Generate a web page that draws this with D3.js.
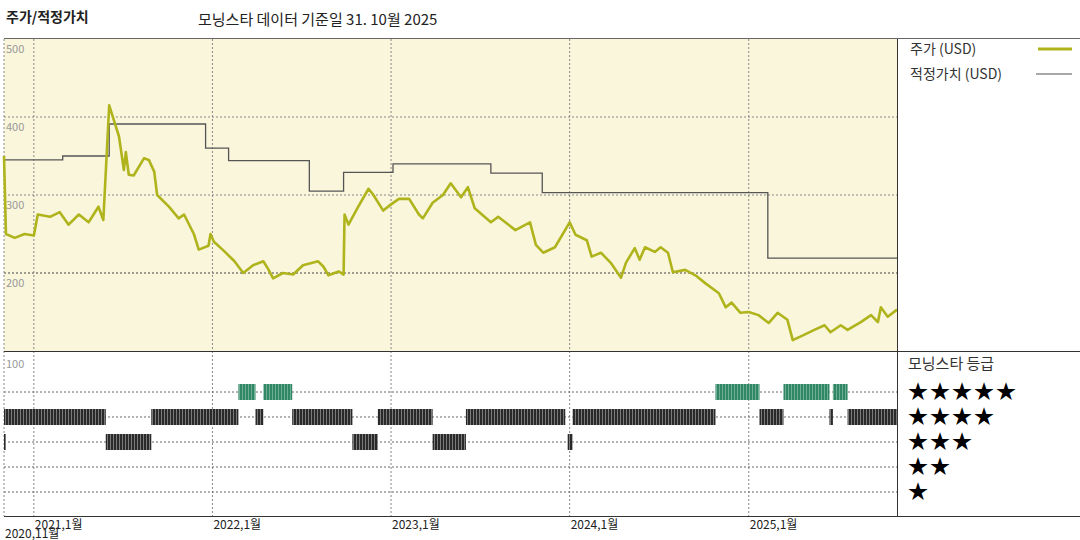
<!DOCTYPE html>
<html><head><meta charset="utf-8">
<script src="https://cdn.jsdelivr.net/npm/d3@7"></script>
<style>body{margin:0;background:#fff}text{font-family:"Noto Sans CJK KR","DejaVu Sans",sans-serif}</style>
</head><body><svg id="c" width="1080" height="540"></svg>
<script>
const priceDates=["2020-11-01","2020-11-05","2020-11-23","2020-12-13","2021-01-01","2021-01-09","2021-02-03","2021-02-23","2021-03-13","2021-04-03","2021-04-23","2021-05-13","2021-05-23","2021-06-04","2021-06-14","2021-06-24","2021-07-04","2021-07-08","2021-07-14","2021-07-24","2021-08-14","2021-08-24","2021-09-04","2021-09-10","2021-10-04","2021-10-24","2021-11-04","2021-11-24","2021-12-04","2021-12-24","2021-12-28","2022-01-04","2022-01-25","2022-02-15","2022-03-05","2022-03-25","2022-04-15","2022-04-25","2022-05-05","2022-05-25","2022-06-15","2022-07-05","2022-08-05","2022-08-16","2022-08-26","2022-09-16","2022-09-26","2022-09-28","2022-10-06","2022-10-26","2022-11-16","2022-11-26","2022-12-16","2023-01-01","2023-01-17","2023-02-07","2023-02-27","2023-03-07","2023-03-27","2023-04-17","2023-05-03","2023-05-24","2023-06-07","2023-06-21","2023-07-24","2023-08-08","2023-09-12","2023-10-12","2023-10-24","2023-11-08","2023-12-02","2024-01-01","2024-01-13","2024-02-05","2024-02-15","2024-03-05","2024-03-25","2024-04-15","2024-04-25","2024-05-13","2024-05-23","2024-06-03","2024-06-23","2024-07-05","2024-07-20","2024-07-30","2024-08-24","2024-09-14","2024-10-04","2024-11-01","2024-11-15","2024-11-27","2024-12-15","2025-01-01","2025-01-21","2025-02-11","2025-03-01","2025-03-21","2025-04-01","2025-04-25","2025-05-15","2025-06-05","2025-06-17","2025-07-08","2025-07-22","2025-08-18","2025-09-08","2025-09-22","2025-09-28","2025-10-12","2025-10-31"];
const priceValues=[350,250,245,250,248,275,272,278,262,275,265,285,268,415,395,375,332,355,326,325,347,345,330,300,285,270,275,250,230,235,250,240,228,215,200,210,215,205,193,200,198,210,215,208,197,202,198,275,262,285,308,300,280,288,295,295,275,270,290,300,315,297,310,283,265,272,255,265,236,226,233,265,249,242,221,226,213,194,213,232,217,233,227,233,226,201,204,197,187,174,156,162,149,150,146,136,149,140,114,121,127,133,124,133,127,137,146,137,156,144,153];
const fairDates=["2020-11-01","2021-03-01","2021-06-04","2021-12-18","2022-02-03","2022-07-18","2022-09-26","2023-01-05","2023-07-24","2023-11-06","2025-02-09","2025-10-31"];
const fairValues=[345,350,391,360,344,305,329,340,328,303,219,219];
const ratingStart=["2020-11-01","2020-11-01","2021-05-28","2021-08-29","2022-02-23","2022-03-30","2022-04-15","2022-06-13","2022-10-14","2022-12-05","2023-03-27","2023-06-03","2023-12-28","2024-01-07","2024-10-25","2025-01-23","2025-03-13","2025-06-15","2025-06-22","2025-07-22"];
const ratingEnd=["2021-05-28","2020-11-04","2021-08-29","2022-02-23","2022-03-30","2022-04-15","2022-06-13","2022-10-14","2022-12-05","2023-03-27","2023-06-03","2023-12-23","2024-01-07","2024-10-25","2025-01-23","2025-03-13","2025-06-15","2025-06-22","2025-07-22","2025-10-31"];
const ratingStars=[4,3,3,4,5,4,5,4,3,4,3,4,3,4,5,4,5,4,5,4];
const yTicks=[500,400,300,200];
const xTickDates=["2020-11-01","2021-01-01","2022-01-01","2023-01-01","2024-01-01","2025-01-01"];
const xTickLabels=["2020,11월","2021,1월","2022,1월","2023,1월","2024,1월","2025,1월"];
const starRows=[5,4,3,2,1];

const P=d3.timeParse("%Y-%m-%d");
const svg=d3.select("#c");
const L=4,R=897,T=39,M=351,B=516;
const x=d3.scaleTime().domain([P("2020-11-01"),P("2025-10-31")]).range([L,R]);
const y=d3.scaleLinear().domain([100,500]).range([M,T]);
const yr=d3.scalePoint().domain(starRows).range([392,492]);

const defs=svg.append("defs");
const pat=defs.append("pattern").attr("id","pk").attr("width",3).attr("height",10).attr("patternUnits","userSpaceOnUse");
pat.append("rect").attr("width",3).attr("height",10).attr("fill","#7a7a7a");
pat.append("rect").attr("width",2).attr("height",10).attr("fill","#2a2a2a");
const pg=defs.append("pattern").attr("id","pg").attr("width",3).attr("height",10).attr("patternUnits","userSpaceOnUse");
pg.append("rect").attr("width",3).attr("height",10).attr("fill","#6fae95");
pg.append("rect").attr("width",2).attr("height",10).attr("fill","#2f8766");

svg.append("rect").attr("x",L).attr("y",T).attr("width",R-L).attr("height",M-T).attr("fill","#faf6dc");

svg.append("text").attr("x",6).attr("y",22).attr("font-size",14).attr("font-weight","bold").attr("fill","#222").text("주가/적정가치");
svg.append("text").attr("x",198).attr("y",25).attr("font-size",15).attr("fill","#222").text("모닝스타 데이터 기준일 31. 10월 2025");

const g=svg.append("g");
g.selectAll(".hg").data(yTicks.slice(1)).join("line").attr("x1",L).attr("x2",R).attr("y1",d=>y(d)).attr("y2",d=>y(d))
 .attr("stroke",d=>d===200?"#444":"#888").attr("stroke-dasharray","2,2").attr("stroke-width",1);
g.selectAll(".vg").data(xTickDates.slice(1)).join("line").attr("x1",d=>x(P(d))).attr("x2",d=>x(P(d))).attr("y1",T).attr("y2",B)
 .attr("stroke","#888").attr("stroke-dasharray","2,2");
g.selectAll(".rg").data(starRows).join("line").attr("x1",L).attr("x2",R).attr("y1",d=>yr(d)).attr("y2",d=>yr(d))
 .attr("stroke","#666").attr("stroke-dasharray","2,2");
g.append("line").attr("x1",L).attr("x2",L).attr("y1",T).attr("y2",B).attr("stroke","#888").attr("stroke-dasharray","2,2");

g.selectAll(".yl").data(yTicks).join("text").attr("x",6).attr("y",d=>y(d)+14).attr("font-size",11).attr("fill","#999").text(d=>d);
g.append("text").attr("x",6).attr("y",368).attr("font-size",11).attr("fill","#999").text("100");

const fair=fairDates.map((d,i)=>[P(d),fairValues[i]]);
svg.append("path").datum(fair).attr("fill","none").attr("stroke","#555").attr("stroke-width",1.3)
 .attr("d",d3.line().x(d=>x(d[0])).y(d=>y(d[1])).curve(d3.curveStepAfter));
const price=priceDates.map((d,i)=>[P(d),priceValues[i]]);
svg.append("path").datum(price).attr("fill","none").attr("stroke","#afb41c").attr("stroke-width",2.6).attr("stroke-linejoin","round")
 .attr("d",d3.line().x(d=>x(d[0])).y(d=>y(d[1])));

svg.selectAll(".rb").data(ratingStars).join("rect")
 .attr("x",(d,i)=>x(P(ratingStart[i]))).attr("width",(d,i)=>Math.max(2,x(P(ratingEnd[i]))-x(P(ratingStart[i]))))
 .attr("y",d=>yr(d)-8).attr("height",16).attr("fill",d=>d===5?"url(#pg)":"url(#pk)");

const f=svg.append("g").attr("stroke","#333").attr("stroke-width",1);
f.append("line").attr("x1",L).attr("x2",1080).attr("y1",T-0.5).attr("y2",T-0.5).attr("stroke","#666");
f.append("line").attr("x1",L).attr("x2",1080).attr("y1",M+0.5).attr("y2",M+0.5);
f.append("line").attr("x1",L).attr("x2",1080).attr("y1",B+0.5).attr("y2",B+0.5);
f.append("line").attr("x1",R+0.5).attr("x2",R+0.5).attr("y1",T).attr("y2",B);

svg.selectAll(".xl").data(xTickDates).join("text").attr("x",(d,i)=>i===0?x(P(d))+1:x(P(d))+1).attr("y",(d,i)=>i===0?538:529)
 .attr("font-size",12).attr("fill","#222").text((d,i)=>xTickLabels[i]);

svg.append("text").attr("x",910).attr("y",54).attr("font-size",14).attr("fill","#333").text("주가 (USD)");
svg.append("line").attr("x1",1038).attr("x2",1072).attr("y1",49).attr("y2",49).attr("stroke","#afb41c").attr("stroke-width",3);
svg.append("text").attr("x",910).attr("y",79).attr("font-size",14).attr("fill","#333").text("적정가치 (USD)");
svg.append("line").attr("x1",1036).attr("x2",1072).attr("y1",74).attr("y2",74).attr("stroke","#555").attr("stroke-width",1.2);
svg.append("text").attr("x",908).attr("y",369).attr("font-size",15).attr("fill","#333").text("모닝스타 등급");
svg.selectAll(".st").data(starRows).join("text").attr("x",908).attr("y",d=>yr(d)+7).attr("font-size",20).attr("letter-spacing",2).attr("fill","#000")
 .attr("font-family","DejaVu Sans").text(d=>"★".repeat(d));
</script></body></html>
